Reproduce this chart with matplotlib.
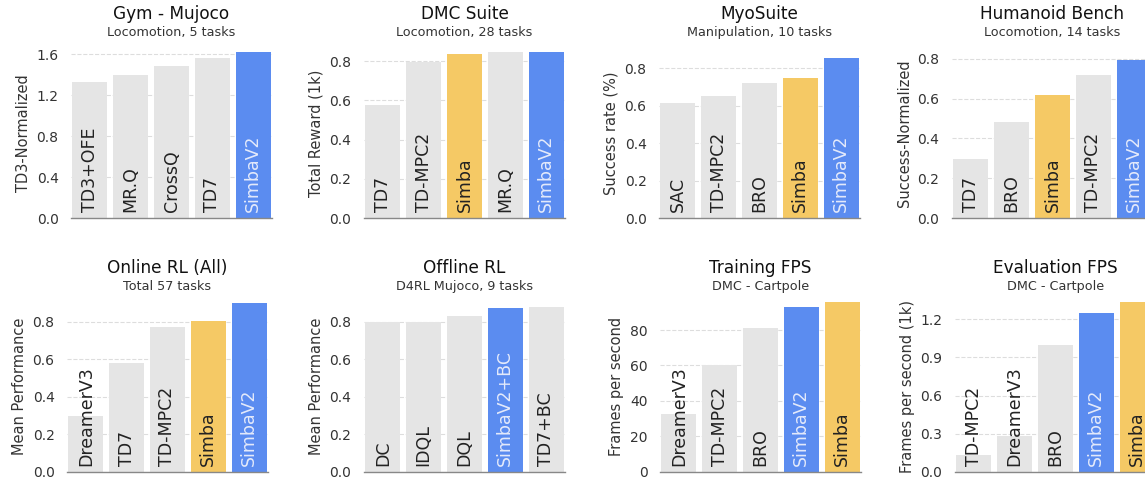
import numpy as np
import matplotlib.pyplot as plt

# data, panel by panel
titles = ['Gym - Mujoco', 'DMC Suite', 'MyoSuite', 'Humanoid Bench',
          'Online RL (All)', 'Offline RL', 'Training FPS', 'Evaluation FPS']
subtitles = ['Locomotion, 5 tasks', 'Locomotion, 28 tasks', 'Manipulation, 10 tasks',
             'Locomotion, 14 tasks', 'Total 57 tasks', 'D4RL Mujoco, 9 tasks',
             'DMC - Cartpole', 'DMC - Cartpole']
ylabels = ['TD3-Normalized', 'Total Reward (1k)', 'Success rate (%)', 'Success-Normalized',
           'Mean Performance', 'Mean Performance', 'Frames per second',
           'Frames per second (1k)']

gym_names = ['TD3+OFE', 'MR.Q', 'CrossQ', 'TD7', 'SimbaV2']
gym_vals = [1.33, 1.40, 1.48, 1.56, 1.62]
dmc_names = ['TD7', 'TD-MPC2', 'Simba', 'MR.Q', 'SimbaV2']
dmc_vals = [0.576, 0.795, 0.835, 0.845, 0.848]
myo_names = ['SAC', 'TD-MPC2', 'BRO', 'Simba', 'SimbaV2']
myo_vals = [0.613, 0.652, 0.72, 0.747, 0.857]
hb_names = ['TD7', 'BRO', 'Simba', 'TD-MPC2', 'SimbaV2']
hb_vals = [0.295, 0.481, 0.62, 0.717, 0.795]
online_names = ['DreamerV3', 'TD7', 'TD-MPC2', 'Simba', 'SimbaV2']
online_vals = [0.297, 0.578, 0.77, 0.804, 0.898]
offline_names = ['DC', 'IDQL', 'DQL', 'SimbaV2+BC', 'TD7+BC']
offline_vals = [0.80, 0.80, 0.83, 0.875, 0.88]
train_names = ['DreamerV3', 'TD-MPC2', 'BRO', 'SimbaV2', 'Simba']
train_vals = [32.4, 60.2, 81.0, 93.2, 95.6]
eval_names = ['TD-MPC2', 'DreamerV3', 'BRO', 'SimbaV2', 'Simba']
eval_vals = [0.135, 0.284, 1.0, 1.252, 1.334]

yticks = [[0, 0.4, 0.8, 1.2, 1.6], [0, 0.2, 0.4, 0.6, 0.8], [0, 0.2, 0.4, 0.6, 0.8],
          [0, 0.2, 0.4, 0.6, 0.8], [0, 0.2, 0.4, 0.6, 0.8], [0, 0.2, 0.4, 0.6, 0.8],
          [0, 20, 40, 60, 80], [0, 0.3, 0.6, 0.9, 1.2]]
ytop = [1.659, 0.867, 0.909, 0.854, 0.907, 0.907, 96.0, 1.339]
tickfmt = ['%.1f'] * 6 + ['%d', '%.1f']

names = [gym_names, dmc_names, myo_names, hb_names,
         online_names, offline_names, train_names, eval_names]
vals = [gym_vals, dmc_vals, myo_vals, hb_vals,
        online_vals, offline_vals, train_vals, eval_vals]

GRAY, YELLOW, BLUE = '#e5e5e5', '#f5c965', '#5b8cf0'


def bar_color(n):
    if n.startswith('SimbaV2'):
        return BLUE, '#e4eafb'
    if n == 'Simba':
        return YELLOW, '#222222'
    return GRAY, '#222222'


W, H = 1145, 480
fig = plt.figure(figsize=(W / 100, H / 100), dpi=100)

# axes positions in pixels: left, zero-line y
lefts = [71, 364, 659, 952, 67, 364, 660, 955]
zeros = [218, 218, 218, 218, 471.7, 471.7, 471.7, 471.7]
aw, ah = 201, 170

for k in range(8):
    ax = fig.add_axes([lefts[k] / W, 1 - zeros[k] / H, aw / W, ah / H])
    x = np.arange(len(names[k]))
    cols = [bar_color(n) for n in names[k]]
    ax.bar(x, vals[k], width=0.85, color=[c[0] for c in cols], zorder=2, clip_on=False)
    for i, n in enumerate(names[k]):
        ax.annotate(n, xy=(x[i], 0), xytext=(0, 4), textcoords='offset points',
                    rotation=90, ha='center', va='bottom', fontsize=12.5,
                    color=cols[i][1], zorder=3)
    ax.set_xlim(-0.46, len(x) - 1 + 0.46)
    ax.set_ylim(0, ytop[k])
    ax.set_yticks(yticks[k])
    ax.set_yticklabels([tickfmt[k] % t for t in yticks[k]])
    ax.set_xticks([])
    ax.tick_params(axis='y', length=0, pad=9, labelsize=10, labelcolor='#333333')
    ax.yaxis.grid(True, linestyle='--', color='#dddddd', linewidth=0.8, zorder=0)
    ax.set_axisbelow(True)
    for s in ['top', 'right', 'left']:
        ax.spines[s].set_visible(False)
    ax.spines['bottom'].set_color('#888888')
    ax.spines['bottom'].set_linewidth(1.0)
    ax.set_ylabel(ylabels[k], fontsize=10.5, color='#333333', labelpad=4)
    ax.annotate(titles[k], xy=(0.5, 1), xycoords='axes fraction', xytext=(0, 24.5),
                textcoords='offset points', ha='center', va='center', fontsize=12.2,
                color='#111111')
    ax.annotate(subtitles[k], xy=(0.5, 1), xycoords='axes fraction', xytext=(0, 11),
                textcoords='offset points', ha='center', va='center', fontsize=9.2,
                color='#333333')

fig.savefig('out.png', dpi=100)
